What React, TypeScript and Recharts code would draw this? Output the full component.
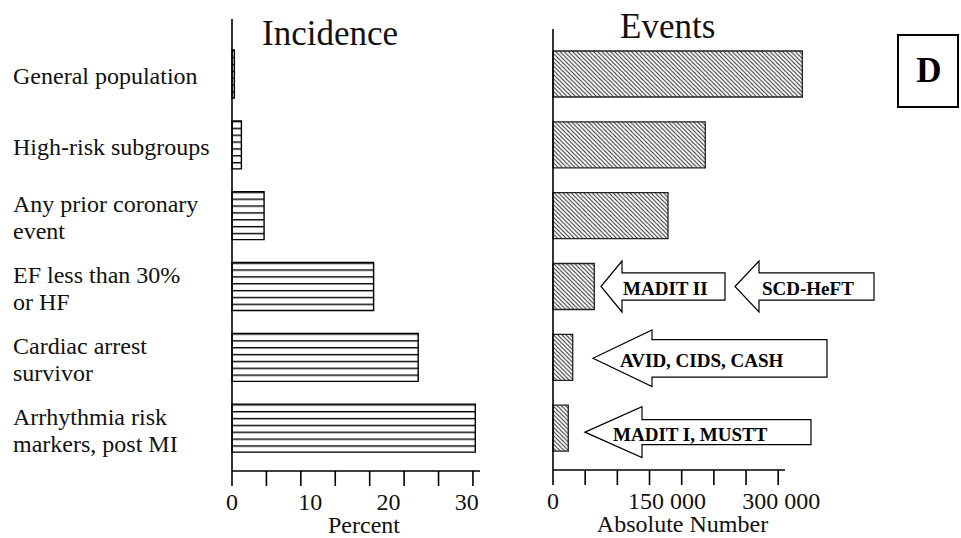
import { Bar, BarChart, LabelList, XAxis, YAxis } from "recharts";

const FONT = "'Liberation Serif', 'Times New Roman', serif";

// rows of the two panels, top to bottom
const rows = [
  "General population",
  "High-risk subgroups",
  "Any prior coronary\nevent",
  "EF less than 30%\nor HF",
  "Cardiac arrest\nsurvivor",
  "Arrhythmia risk\nmarkers, post MI",
];

// incidence, percent per year
const incidencePct = [0.3, 1.2, 4.1, 18.1, 23.8, 31.1];

// events, absolute number per year
const eventCounts = [327800, 200200, 151200, 54300, 25900, 20100];

// axis ticks: marks and labelled values
const pctMarks = [0, 4.4, 8.8, 13.2, 17.6, 22, 26.4, 30.8];
const pctLabels = [0, 10, 20, 30];
const countMarks = [0, 42300, 84600, 126900, 169200, 211500, 253800, 296100];
const countLabels = [0, 150000, 300000];

// trials drawn as arrows next to the event bars
const trialNames = ["MADIT II", "SCD-HeFT", "AVID, CIDS, CASH", "MADIT I, MUSTT"];
const trialRows = [3, 3, 4, 5];

// arrow geometry (px, measured from the value axis)
const arrowShapes = [
  { tip: 48, neck: 69, tail: 172, head: 25.5, shaft: 13.7, textAt: 22, dy: 0 },
  { tip: 182, neck: 206, tail: 321, head: 25.5, shaft: 13.7, textAt: 27, dy: 0 },
  { tip: 40, neck: 99, tail: 274, head: 28.3, shaft: 18.7, textAt: 27, dy: 1 },
  { tip: 32, neck: 89, tail: 258, head: 25.5, shaft: 12.5, textAt: 28, dy: 4 },
];

const table = rows.map((name, i) => ({
  name,
  incidence: incidencePct[i],
  events: eventCounts[i],
}));

const spaced = (v: number) =>
  v === 0 ? "0" : String(v).replace(/\B(?=(\d{3})+(?!\d))/g, " ");

function makeTick(marks: number[], labels: number[], fmt: (v: number) => string) {
  return (props: any) => {
    const { x, y, payload } = props;
    const v = payload.value as number;
    return (
      <g>
        {marks.includes(v) && (
          <line x1={x} x2={x} y1={y} y2={y + 15} stroke="#000" strokeWidth={1.6} />
        )}
        {labels.includes(v) && (
          <text
            x={x}
            y={y + 39}
            textAnchor="middle"
            fontFamily={FONT}
            fontSize={24}
            fill="#111"
          >
            {fmt(v)}
          </text>
        )}
      </g>
    );
  };
}

function RowLabel(props: any) {
  const { y, payload } = props;
  const lines = String(payload.value).split("\n");
  const first = y + 9.5 - (lines.length - 1) * 13.5;
  return (
    <text x={13} y={first} fontFamily={FONT} fontSize={24} fill="#111">
      {lines.map((ln, i) => (
        <tspan key={i} x={13} y={first + i * 27}>
          {ln}
        </tspan>
      ))}
    </text>
  );
}

function TrialArrows(props: any) {
  const { y, height, value } = props;
  const row = rows.indexOf(value);
  const axisX = 53;
  const cyBar = y + height / 2;
  return (
    <g>
      {trialRows.map((r, i) => {
        if (r !== row) return null;
        const a = arrowShapes[i];
        const cy = cyBar + a.dy;
        const tip = axisX + a.tip;
        const neck = axisX + a.neck;
        const tail = axisX + a.tail;
        const d = [
          `M${tip},${cy}`,
          `L${neck},${cy - a.head}`,
          `L${neck},${cy - a.shaft}`,
          `L${tail},${cy - a.shaft}`,
          `L${tail},${cy + a.shaft}`,
          `L${neck},${cy + a.shaft}`,
          `L${neck},${cy + a.head}`,
          "Z",
        ].join(" ");
        return (
          <g key={i}>
            <path d={d} fill="#fff" stroke="#000" strokeWidth={1.2} />
            <text
              x={tip + a.textAt}
              y={cy + 8.5}
              fontFamily={FONT}
              fontWeight="bold"
              fontSize={19}
              fill="#000"
            >
              {trialNames[i]}
            </text>
          </g>
        );
      })}
    </g>
  );
}

const axisStroke = { stroke: "#000", strokeWidth: 1.6 };

export default function App() {
  return (
    <div
      style={{
        position: "absolute",
        left: 0,
        top: 0,
        width: 961,
        height: 538,
        background: "#fff",
        fontFamily: FONT,
      }}
    >
      <div style={{ position: "absolute", left: 0, top: 0 }}>
        <BarChart
          width={500}
          height={538}
          data={table}
          layout="vertical"
          margin={{ top: 19, right: 20, bottom: 0, left: 0 }}
        >
          <XAxis
            type="number"
            domain={[0, 31.7]}
            ticks={[...pctMarks, ...pctLabels.filter((v) => !pctMarks.includes(v))]}
            interval={0}
            height={67}
            tickSize={0}
            tickMargin={0}
            tickLine={false}
            axisLine={axisStroke}
            tick={makeTick(pctMarks, pctLabels, String)}
            label={{
              value: "Percent",
              position: "insideBottom",
              offset: 5,
              dx: 8,
              fontSize: 24,
              fontFamily: FONT,
              fill: "#111",
            }}
          />
          <YAxis
            type="category"
            dataKey="name"
            width={232}
            interval={0}
            padding={{ top: 20, bottom: 7 }}
            tickLine={false}
            axisLine={axisStroke}
            tick={<RowLabel />}
          />
          <Bar
            dataKey="incidence"
            barSize={48}
            fill="url(#hlines)"
            stroke="#000"
            strokeWidth={1.4}
            isAnimationActive={false}
          />
        </BarChart>
      </div>

      <div style={{ position: "absolute", left: 500, top: 0 }}>
        <BarChart
          width={400}
          height={538}
          data={table}
          layout="vertical"
          margin={{ top: 29, right: 96, bottom: 0, left: 0 }}
        >
          <XAxis
            type="number"
            domain={[0, 330000]}
            ticks={[...countMarks, ...countLabels.filter((v) => !countMarks.includes(v))]}
            interval={0}
            height={68}
            tickSize={0}
            tickMargin={0}
            tickLine={false}
            axisLine={{ ...axisStroke, strokeDasharray: "232 1000" }}
            tick={makeTick(countMarks, countLabels, spaced)}
            label={{
              value: "Absolute Number",
              position: "insideBottom",
              offset: 6,
              dx: 4,
              fontSize: 24,
              fontFamily: FONT,
              fill: "#111",
            }}
          />
          <YAxis
            type="category"
            dataKey="name"
            width={53}
            interval={0}
            padding={{ top: 10, bottom: 6 }}
            tickLine={false}
            tick={false}
            axisLine={axisStroke}
          />
          <Bar
            dataKey="events"
            barSize={46}
            fill="url(#hatch)"
            stroke="#222"
            strokeWidth={1.3}
            isAnimationActive={false}
          >
            <LabelList dataKey="name" content={<TrialArrows />} />
          </Bar>
        </BarChart>
      </div>

      <svg
        width={961}
        height={538}
        style={{ position: "absolute", left: 0, top: 0, pointerEvents: "none" }}
      >
        <defs>
          <pattern id="hlines" patternUnits="objectBoundingBox" width={1} height={1 / 7}>
            <rect x={0} y={0} width={2000} height={100} fill="#fff" />
            <rect x={0} y={0} width={2000} height={1.4} fill="#000" />
          </pattern>
          <pattern id="hatch" patternUnits="userSpaceOnUse" width={4.2} height={4.2}>
            <rect x={0} y={0} width={4.2} height={4.2} fill="#fff" />
            <path
              d="M-1,-1 L5.2,5.2 M-1,3.2 L1,5.2 M3.2,-1 L5.2,1"
              stroke="#222"
              strokeWidth={1}
            />
          </pattern>
        </defs>
        <text x={262} y={45} fontFamily={FONT} fontSize={35} fill="#111">
          Incidence
        </text>
        <text x={620} y={38} fontFamily={FONT} fontSize={35} fill="#111">
          Events
        </text>
        <rect x={898} y={35} width={60} height={72} fill="#fff" stroke="#000" strokeWidth={2} />
        <text
          x={929}
          y={82}
          textAnchor="middle"
          fontFamily={FONT}
          fontWeight="bold"
          fontSize={35}
          fill="#000"
        >
          D
        </text>
      </svg>
    </div>
  );
}
